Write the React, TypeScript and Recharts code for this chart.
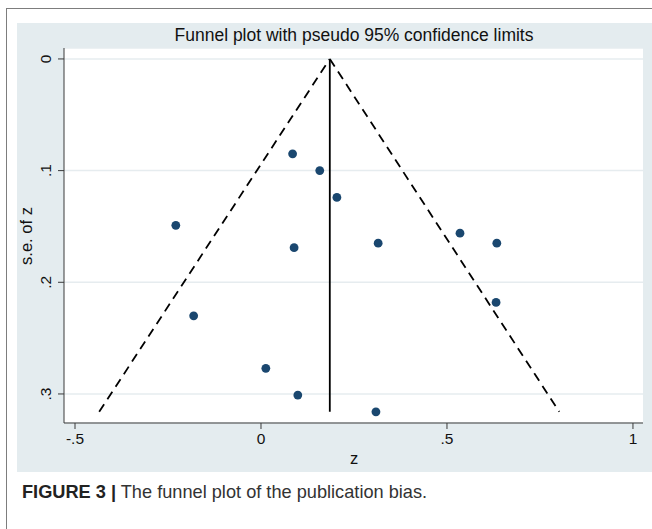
import React from 'react';
import { ScatterChart, Scatter, XAxis, YAxis, CartesianGrid } from 'recharts';

// Study effect sizes (z) and their standard errors
const zValues = [0.085, 0.158, 0.204, -0.229, 0.089, 0.315, 0.535, 0.634, 0.632, -0.181, 0.013, 0.099, 0.309];
const seValues = [0.085, 0.1, 0.124, 0.149, 0.169, 0.165, 0.156, 0.165, 0.218, 0.23, 0.277, 0.301, 0.316];

// Funnel geometry
const pooledZ = 0.185;
const maxSe = 0.316;
const lowerLimitZ = -0.435;
const upperLimitZ = 0.802;

const xTicks = [-0.5, 0, 0.5, 1];
const xTickLabels = ['-.5', '0', '.5', '1'];
const yTicks = [0, 0.1, 0.2, 0.3];
const yTickLabels = ['0', '.1', '.2', '.3'];

const titleText = 'Funnel plot with pseudo 95% confidence limits';
const xLabel = 'z';
const yLabel = 's.e. of z';
const captionBold = 'FIGURE 3 |';
const captionText = ' The funnel plot of the publication bias.';

const points = zValues.map((z, i) => ({ z, se: seValues[i] }));
const leftLimit = [
  { z: lowerLimitZ, se: maxSe },
  { z: pooledZ, se: 0 },
];
const rightLimit = [
  { z: pooledZ, se: 0 },
  { z: upperLimitZ, se: maxSe },
];
const centerLine = [
  { z: pooledZ, se: 0 },
  { z: pooledZ, se: maxSe },
];

const FONT = '"Liberation Sans", Arial, sans-serif';
const AXIS = '#3a3a3a';
const DOT = '#1a476f';

const YTick = (props: any) => {
  const { x, y, payload } = props;
  const i = yTicks.indexOf(payload.value);
  const bx = x - 5;
  return (
    <text
      x={bx}
      y={y}
      transform={`rotate(-90, ${bx}, ${y})`}
      textAnchor="middle"
      fontSize={15.5}
      fontFamily={FONT}
      fill="#111"
    >
      {i >= 0 ? yTickLabels[i] : payload.value}
    </text>
  );
};

const Dot = (props: any) => {
  const { cx, cy } = props;
  return <circle cx={cx} cy={cy} r={4.4} fill={DOT} />;
};

const NoShape = () => <g />;

export default function App() {
  return (
    <div style={{ position: 'absolute', left: 0, top: 0, width: 652, height: 529, background: '#fff', overflow: 'hidden', fontFamily: FONT }}>
      <div style={{ position: 'absolute', left: 6, top: 8, width: 700, height: 600, borderTop: '1.5px solid #7d7d7d', borderLeft: '1.5px solid #7d7d7d' }} />
      <div style={{ position: 'absolute', left: 17, top: 23, width: 700, height: 449, background: '#e4ecef' }} />
      <div style={{ position: 'absolute', left: 64, top: 48, width: 579, height: 375, background: '#fff' }} />
      <div style={{ position: 'absolute', left: 0, top: 0 }}>
        <ScatterChart width={652} height={529} margin={{ top: 48, right: 9, bottom: 76, left: 24 }}>
          <CartesianGrid horizontal={true} vertical={false} stroke="#e6ecef" strokeWidth={1.5} />
          <XAxis
            dataKey="z"
            type="number"
            domain={[-0.5296, 1.027]}
            ticks={xTicks}
            allowDataOverflow
            height={30}
            tickSize={6}
            tickMargin={4}
            stroke={AXIS}
            tickLine={{ stroke: AXIS }}
            tick={{ fontSize: 15.5, fontFamily: FONT, fill: '#111' }}
            tickFormatter={(v: number) => {
              const i = xTicks.indexOf(v);
              return i >= 0 ? xTickLabels[i] : String(v);
            }}
          />
          <YAxis
            dataKey="se"
            type="number"
            reversed
            domain={[-0.0098, 0.326]}
            ticks={yTicks}
            allowDataOverflow
            width={40}
            tickSize={6}
            stroke={AXIS}
            tickLine={{ stroke: AXIS }}
            tick={<YTick />}
          />
          <Scatter data={leftLimit} shape={NoShape} line={{ stroke: '#000', strokeWidth: 1.8, strokeDasharray: '9 6' }} isAnimationActive={false} legendType="none" />
          <Scatter data={rightLimit} shape={NoShape} line={{ stroke: '#000', strokeWidth: 1.8, strokeDasharray: '9 6' }} isAnimationActive={false} legendType="none" />
          <Scatter data={centerLine} shape={NoShape} line={{ stroke: '#000', strokeWidth: 1.8 }} isAnimationActive={false} legendType="none" />
          <Scatter data={points} shape={<Dot />} isAnimationActive={false} legendType="none" />
        </ScatterChart>
      </div>
      <svg width={652} height={529} style={{ position: 'absolute', left: 0, top: 0, pointerEvents: 'none' }}>
        <text x={354} y={41} textAnchor="middle" fontSize={17.5} fontFamily={FONT} fill="#111">{titleText}</text>
        <text x={354} y={464} textAnchor="middle" fontSize={16.5} fontFamily={FONT} fill="#111">{xLabel}</text>
        <text x={32} y={236} textAnchor="middle" fontSize={16.5} fontFamily={FONT} fill="#111" transform="rotate(-90, 32, 236)">{yLabel}</text>
        <text x={22} y={498} fontSize={18.2} fontFamily={FONT} fill="#333">
          <tspan fontWeight="bold" fill="#222">{captionBold}</tspan>
          <tspan>{captionText}</tspan>
        </text>
      </svg>
    </div>
  );
}
